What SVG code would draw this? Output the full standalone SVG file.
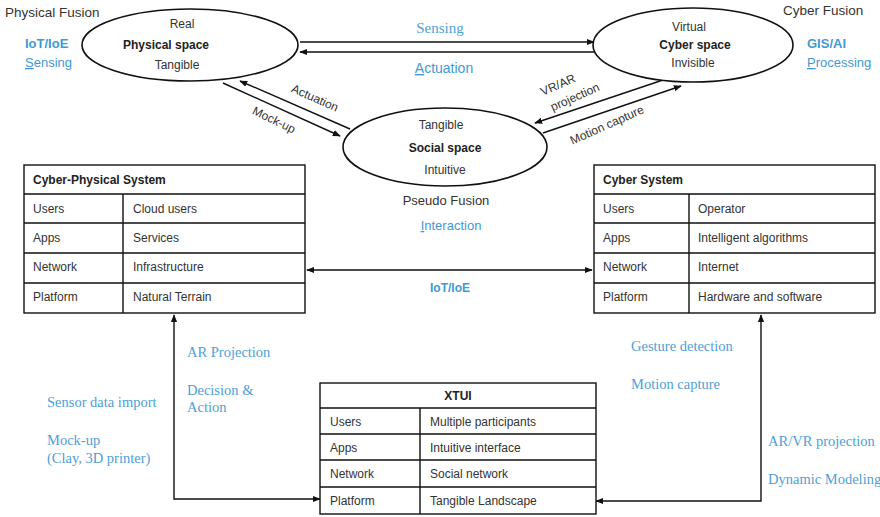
<svg xmlns="http://www.w3.org/2000/svg" width="880" height="517" viewBox="0 0 880 517">
<defs>
<marker id="ah" viewBox="0 0 10 10" refX="9" refY="5" markerWidth="8" markerHeight="8" orient="auto-start-reverse" markerUnits="userSpaceOnUse"><path d="M0,1 L10,5 L0,9 z" fill="#111"/></marker>
<style>
text{font-family:"Liberation Sans",Arial,sans-serif;fill:#333;font-size:12px}
.b{font-weight:bold;fill:#222}
.c{text-anchor:middle}
.blue{fill:#3f9ad3}
.bb{fill:#3f9ad3;font-weight:bold}
.ser{font-family:"Liberation Serif","Times New Roman",serif;fill:#4ea0d8;font-size:14.5px}
.lab{font-size:13px}
.el{fill:#fff;stroke:#111;stroke-width:1.6}
.tb{fill:#fff;stroke:#111;stroke-width:1.4}
.ln{stroke:#111;stroke-width:1.4;fill:none}
.ar{stroke:#111;stroke-width:1.4;fill:none;marker-end:url(#ah)}
</style>
</defs>
<rect width="880" height="517" fill="#fff"/>

<g id="connectors">
<line class="ar" x1="300" y1="42" x2="594" y2="42"/>
<line class="ar" x1="594" y1="52" x2="300" y2="52"/>
<line class="ar" x1="350" y1="129" x2="240" y2="81"/>
<line class="ar" x1="223" y1="83" x2="340" y2="136"/>
<line class="ar" x1="663" y1="80" x2="535" y2="123"/>
<line class="ar" x1="543" y1="133" x2="681" y2="86"/>
<line class="ln" x1="307" y1="270" x2="592" y2="270" style="marker-start:url(#ah);marker-end:url(#ah)"/>
<polyline class="ar" points="320,499 174,499 174,315" style="marker-start:url(#ah);marker-end:url(#ah)"/>
<polyline class="ar" points="596,501 761,501 761,315" style="marker-start:url(#ah);marker-end:url(#ah)"/>
<text class="ser c" x="440" y="33" style="font-size:15px">Sensing</text>
<text class="blue c" x="444" y="73" style="font-size:14px"><tspan text-decoration="underline">A</tspan>ctuation</text>
<text class="c" x="315" y="102" transform="rotate(24 315 98)">Actuation</text>
<text class="c" x="274" y="124" transform="rotate(26 274 120)">Mock-up</text>
<text class="c" x="558" y="89" transform="rotate(-24 558 85)">VR/AR</text>
<text class="c" x="575" y="101" transform="rotate(-24 575 97)">projection</text>
<text class="c" x="607" y="129" transform="rotate(-24 607 125)">Motion capture</text>
<text class="bb c" x="450" y="292">IoT/IoE</text>
</g>

<g id="physical">
<ellipse class="el" cx="190" cy="45" rx="108" ry="36"/>
<text class="c" x="182" y="28">Real</text>
<text class="b c" x="166" y="49">Physical space</text>
<text class="c" x="177" y="69">Tangible</text>
</g>
<g id="physical-labels">
<text class="lab" x="5" y="17" style="font-size:13.5px">Physical Fusion</text>
<text class="bb lab" x="25" y="48">IoT/IoE</text>
<text class="blue lab" x="25" y="67"><tspan text-decoration="underline">S</tspan>ensing</text>
</g>

<g id="cyber">
<ellipse class="el" cx="693" cy="45" rx="100" ry="37"/>
<text class="c" x="689" y="31">Virtual</text>
<text class="b c" x="695" y="49">Cyber space</text>
<text class="c" x="693" y="67">Invisible</text>
</g>
<g id="cyber-labels">
<text class="lab" x="783" y="15" style="font-size:13.5px">Cyber Fusion</text>
<text class="bb lab" x="807" y="48">GIS/AI</text>
<text class="blue lab" x="807" y="67"><tspan text-decoration="underline">P</tspan>rocessing</text>
</g>

<g id="social">
<ellipse class="el" cx="445" cy="147" rx="102" ry="39"/>
<text class="c" x="441" y="129">Tangible</text>
<text class="b c" x="445" y="152">Social space</text>
<text class="c" x="445" y="174">Intuitive</text>
<text class="c lab" x="446" y="205">Pseudo Fusion</text>
<text class="c blue lab" x="451" y="230"><tspan text-decoration="underline">I</tspan>nteraction</text>
</g>

<g id="cps">
<rect class="tb" x="24" y="165" width="281" height="148"/>
<path class="ln" d="M24,194H305M24,223H305M24,253H305M24,283H305M123,194V313"/>
<text class="b" x="33" y="184">Cyber-Physical System</text>
<text x="33" y="213">Users</text><text x="133" y="213">Cloud users</text>
<text x="33" y="242">Apps</text><text x="133" y="242">Services</text>
<text x="33" y="271">Network</text><text x="133" y="271">Infrastructure</text>
<text x="33" y="301">Platform</text><text x="133" y="301">Natural Terrain</text>
</g>

<g id="cs">
<rect class="tb" x="594" y="165" width="281" height="148"/>
<path class="ln" d="M594,194H875M594,223H875M594,253H875M594,283H875M689,194V313"/>
<text class="b" x="603" y="184">Cyber System</text>
<text x="603" y="213">Users</text><text x="698" y="213">Operator</text>
<text x="603" y="242">Apps</text><text x="698" y="242">Intelligent algorithms</text>
<text x="603" y="271">Network</text><text x="698" y="271">Internet</text>
<text x="603" y="301">Platform</text><text x="698" y="301">Hardware and software</text>
</g>

<g id="xtui">
<rect class="tb" x="320" y="383" width="276" height="131"/>
<path class="ln" d="M320,408H596M320,434H596M320,460H596M320,487H596M420,408V514"/>
<text class="b c" x="458" y="400">XTUI</text>
<text x="330" y="426">Users</text><text x="430" y="426">Multiple participants</text>
<text x="330" y="452">Apps</text><text x="430" y="452">Intuitive interface</text>
<text x="330" y="478">Network</text><text x="430" y="478">Social network</text>
<text x="330" y="505">Platform</text><text x="430" y="505">Tangible Landscape</text>
</g>

<g id="left-labels">
<text class="ser" x="187" y="357">AR Projection</text>
<text class="ser" x="187" y="395">Decision &amp;</text>
<text class="ser" x="187" y="412">Action</text>
<text class="ser" x="47" y="407">Sensor data import</text>
<text class="ser" x="47" y="445">Mock-up</text>
<text class="ser" x="47" y="463">(Clay, 3D printer)</text>
</g>
<g id="right-labels">
<text class="ser" x="631" y="351">Gesture detection</text>
<text class="ser" x="631" y="389">Motion capture</text>
<text class="ser" x="768" y="446">AR/VR projection</text>
<text class="ser" x="768" y="484">Dynamic Modeling</text>
</g>
</svg>
